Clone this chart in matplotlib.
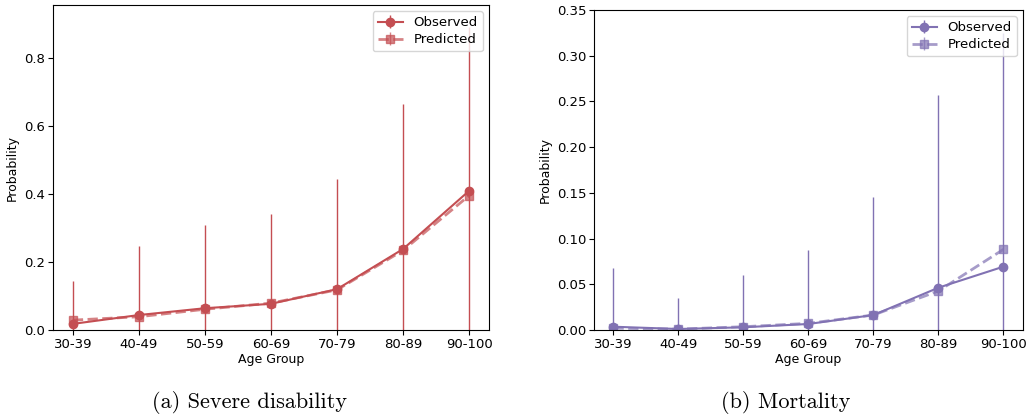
import numpy as np
import matplotlib
matplotlib.use("Agg")
import matplotlib.pyplot as plt

# age groups on the x axis
age_groups = ["30-39", "40-49", "50-59", "60-69", "70-79", "80-89", "90-100"]

# severe disability
dis_observed = [0.018, 0.044, 0.064, 0.077, 0.120, 0.238, 0.409]
dis_predicted = [0.029, 0.039, 0.061, 0.079, 0.118, 0.234, 0.395]
dis_upper = [0.144, 0.247, 0.308, 0.341, 0.445, 0.665, 0.890]

# mortality
mort_observed = [0.0036, 0.0011, 0.0030, 0.0066, 0.0164, 0.0463, 0.0693]
mort_predicted = [0.0020, 0.0010, 0.0036, 0.0073, 0.0164, 0.0427, 0.0882]
mort_upper = [0.068, 0.0346, 0.060, 0.0875, 0.146, 0.257, 0.3245]

captions = ["(a) Severe disability", "(b) Mortality"]

RED = "#c44e52"
PURPLE = "#8172b3"

fig = plt.figure(figsize=(10.28, 4.18), dpi=100)
ax1 = fig.add_axes([0.0516, 0.2105, 0.424, 0.7775])
ax2 = fig.add_axes([0.5778, 0.2105, 0.4173, 0.7656])


def draw_panel(ax, obs, pred, upper, color, ylim):
    x = np.arange(len(age_groups))
    obs = np.array(obs)
    err = np.array(upper) - obs
    ax.errorbar(x, obs, yerr=err, color=color, marker="o", markersize=6,
                linewidth=1.5, elinewidth=1.0, label="Observed")
    ax.errorbar(x, pred, yerr=np.zeros(len(pred)), color=color, alpha=0.7,
                marker="s", markersize=6, linestyle="--", linewidth=2,
                elinewidth=1.0, label="Predicted")
    ax.set_xticks(x)
    ax.set_xticklabels(age_groups)
    ax.set_xlim(-0.3, len(age_groups) - 1 + 0.3)
    ax.set_ylim(*ylim)
    ax.set_xlabel("Age Group", fontsize=9, labelpad=2)
    ax.set_ylabel("Probability", fontsize=9)
    ax.tick_params(labelsize=9.5, pad=2)
    ax.legend(loc="upper right", fontsize=9.5, handlelength=1.9,
              borderaxespad=0.45, labelspacing=0.3)


draw_panel(ax1, dis_observed, dis_predicted, dis_upper, RED, (0, 0.955))
ax1.set_yticks([0.0, 0.2, 0.4, 0.6, 0.8])

draw_panel(ax2, mort_observed, mort_predicted, mort_upper, PURPLE, (0, 0.35))
ax2.set_yticks(np.arange(0, 0.351, 0.05))

fig.text(0.243, 0.036, captions[0], ha="center", va="center",
         fontsize=16, family="cmr10")
fig.text(0.764, 0.036, captions[1], ha="center", va="center",
         fontsize=16, family="cmr10")

fig.savefig("out.png", dpi=100)
